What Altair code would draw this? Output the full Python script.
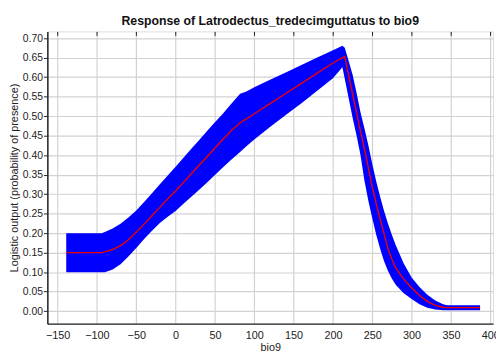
import altair as alt
import pandas as pd

# bio9 values
x_vals = [-139, -94, -90, -80, -70, -60, -50, -40, -30, -20, -10, 0, 10, 20, 30, 40, 50, 60, 70, 82, 90,
          100, 120, 140, 160, 180, 200, 212, 215, 220, 225, 230, 235, 240, 245, 250, 255, 260, 265, 270,
          275, 280, 290, 300, 310, 320, 330, 340, 345, 387]
# mean response
mean_vals = [0.150, 0.150, 0.152, 0.158, 0.168, 0.183, 0.202, 0.223, 0.245, 0.266, 0.288, 0.308, 0.330,
             0.352, 0.374, 0.396, 0.418, 0.440, 0.461, 0.483, 0.493, 0.506, 0.532, 0.558, 0.584, 0.610,
             0.636, 0.650, 0.653, 0.604, 0.557, 0.508, 0.462, 0.416, 0.368, 0.318, 0.275, 0.236, 0.198,
             0.160, 0.133, 0.110, 0.082, 0.060, 0.040, 0.025, 0.015, 0.010, 0.009, 0.009]
# mean - sd
lo_vals = [0.100, 0.100, 0.100, 0.107, 0.120, 0.140, 0.162, 0.185, 0.206, 0.226, 0.242, 0.257, 0.275,
           0.293, 0.311, 0.330, 0.349, 0.368, 0.387, 0.408, 0.423, 0.440, 0.472, 0.503, 0.533, 0.565,
           0.597, 0.625, 0.596, 0.546, 0.496, 0.450, 0.400, 0.335, 0.283, 0.238, 0.196, 0.160, 0.128,
           0.103, 0.083, 0.067, 0.046, 0.031, 0.018, 0.009, 0.004, 0.002, 0.002, 0.002]
# mean + sd
hi_vals = [0.200, 0.200, 0.203, 0.212, 0.224, 0.240, 0.258, 0.280, 0.302, 0.325, 0.348, 0.370, 0.393,
           0.416, 0.439, 0.462, 0.484, 0.506, 0.530, 0.557, 0.563, 0.574, 0.593, 0.612, 0.631, 0.650,
           0.669, 0.680, 0.675, 0.641, 0.606, 0.560, 0.510, 0.469, 0.425, 0.377, 0.333, 0.293, 0.257,
           0.224, 0.195, 0.168, 0.122, 0.086, 0.062, 0.042, 0.027, 0.018, 0.015, 0.015]

x_ticks = [-150, -100, -50, 0, 50, 100, 150, 200, 250, 300, 350, 400]
y_ticks = [0.0, 0.05, 0.10, 0.15, 0.20, 0.25, 0.30, 0.35, 0.40, 0.45, 0.50, 0.55, 0.60, 0.65, 0.70]

df = pd.DataFrame({"x": x_vals, "mean": mean_vals, "lo": lo_vals, "hi": hi_vals})

FONT = "Liberation Sans"
xscale = alt.Scale(domain=[-163, 403.5], nice=False, zero=False)
yscale = alt.Scale(domain=[-0.032, 0.717], nice=False, zero=False)

yaxis = alt.Axis(values=y_ticks, format=".2f",
                 title="Logistic output (probability of presence)",
                 grid=True, gridColor="#d2d2d2", gridWidth=1.2,
                 tickSize=4, tickColor="#222", labelPadding=1,
                 labelFont=FONT, labelFontSize=10.5, labelColor="#222",
                 labelOverlap=False,
                 titleFont=FONT, titleFontSize=11, titleFontWeight="normal",
                 titleColor="#222", titlePadding=3,
                 domainColor="#222", domainWidth=1.5)

base = alt.Chart(df)

band = base.mark_area(color="#0000ff", opacity=1).encode(
    x=alt.X("x:Q", scale=xscale,
            axis=alt.Axis(values=x_ticks, title="bio9", orient="bottom", grid=True,
                          gridColor="#d2d2d2", gridWidth=1.2, tickSize=0, labelPadding=6,
                          labelFont=FONT, labelFontSize=11, labelColor="#222",
                          labelOverlap=False,
                          titleFont=FONT, titleFontSize=11, titleFontWeight="normal",
                          titleColor="#222", titlePadding=1,
                          domainColor="#222", domainWidth=1.5, labelFlush=False)),
    y=alt.Y("lo:Q", scale=yscale, axis=yaxis,
            title="Logistic output (probability of presence)"),
    y2="hi:Q",
)

line = base.mark_line(color="#ee0000", strokeWidth=1.4).encode(
    x=alt.X("x:Q", scale=xscale,
            axis=alt.Axis(values=x_ticks, orient="top", offset=-4, tickSize=4, tickColor="#222",
                          labels=False, domain=False, grid=False, title=None)),
    y=alt.Y("mean:Q", scale=yscale, axis=yaxis,
            title="Logistic output (probability of presence)"),
)

chart = alt.layer(band, line).resolve_axis(x="independent").properties(
    width=453, height=297,
    padding={"left": 40, "top": 21, "right": 3, "bottom": 25},
    autosize=alt.AutoSizeParams(type="none"),
    title=alt.TitleParams("Response of Latrodectus_tredecimguttatus to bio9",
                          font=FONT, fontSize=12.5, fontWeight="bold", color="#111",
                          anchor="middle", offset=-6, baseline="alphabetic"),
).configure_view(stroke="#555", strokeWidth=1).configure(background="white")

chart.save("out.html", embed_options={"renderer": "svg", "actions": False})
